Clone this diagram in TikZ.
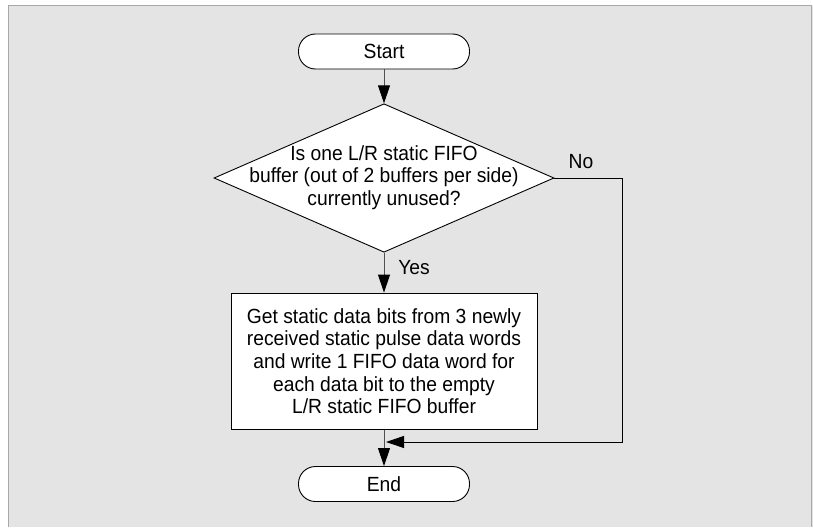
\documentclass[tikz,border=0pt]{standalone}
\usepackage{fontspec}
\setmainfont[FakeStretch=0.94]{Liberation Sans}
\usetikzlibrary{shapes.geometric,arrows.meta}
\definecolor{panel}{RGB}{228,228,228}
\definecolor{frameline}{RGB}{168,168,168}
\definecolor{wire}{RGB}{80,80,80}
\begin{document}
\begin{tikzpicture}[x=1pt,y=-1pt,
  txt/.style={font=\fontsize{20.5}{22.7}\selectfont, align=center},
  terminal/.style={draw=black, fill=white, line width=0.9pt, rounded corners=17pt,
    minimum width=171pt, minimum height=35pt, inner sep=0pt, txt},
  decision/.style={diamond, draw=black, fill=white, line width=0.9pt,
    minimum width=340pt, minimum height=148.5pt, inner sep=0pt},
  process/.style={draw=black, fill=white, line width=0.9pt,
    minimum width=306pt, minimum height=136.5pt, inner sep=0pt, txt},
  flow/.style={draw=wire, line width=1pt,
    -{Triangle[length=18pt,width=12pt,fill=black,color=black]}},
  branch/.style={txt, inner sep=0pt}]
% page and panel
\useasboundingbox (0,0) rectangle (813,527);
\fill[white] (0,0) rectangle (813,527);
\fill[panel] (8,6) rectangle (813,527);
\draw[frameline, line width=1pt] (8,527) -- (8,6) -- (811,6) -- (811,527);

% nodes
\node[terminal] (start) at (384,51.5) {Start};
\node[decision] (dec) at (384,178) {};
\node[txt] (q) at (384,177.5) {Is one L/R static FIFO\\buffer (out of 2 buffers per side)\\currently unused?};
\node[process] (work) at (384,361.25) {Get static data bits from 3 newly\\received static pulse data words\\and write 1 FIFO data word for\\each data bit to the empty\\L/R static FIFO buffer};
\node[terminal] (end) at (384,484) {End};

% helper points for the "No" route
\coordinate (rx) at (622,0);
\coordinate (merge) at (386,442);

% connectors
\draw[flow] (start) -- (dec.north);
\draw[flow] (dec.south) -- (work.north);
\draw[flow] (work.south) -- (end.north);
\draw[flow, draw=black] (dec.east) -- (dec.east -| rx) |- (merge);

% branch labels
\node[branch] (no) at (581,162) {No};
\node[branch] (yes) at (414,267.5) {Yes};
\end{tikzpicture}
\end{document}
